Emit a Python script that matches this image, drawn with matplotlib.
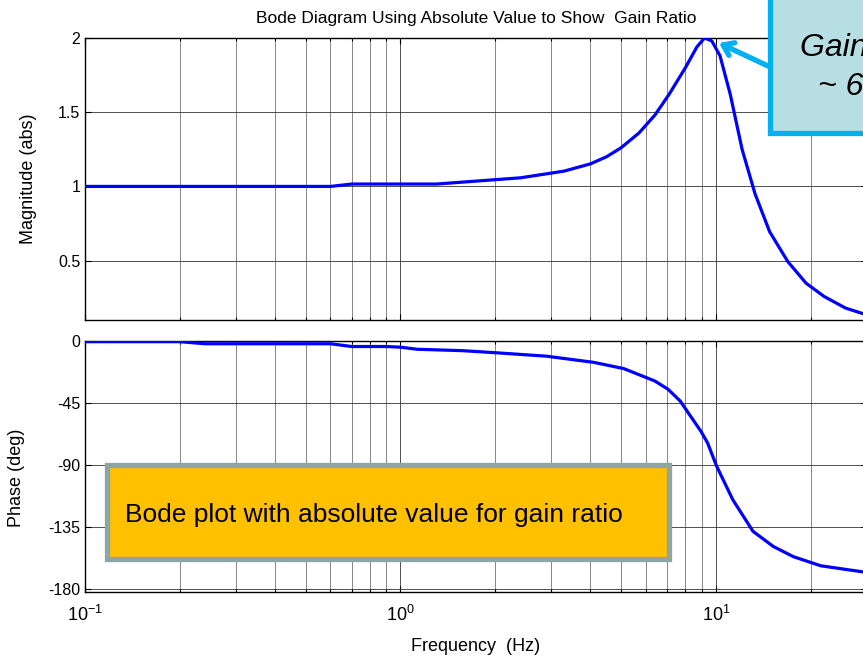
import numpy as np
import matplotlib
matplotlib.use("Agg")
import matplotlib.pyplot as plt
from matplotlib.patches import Rectangle, FancyArrowPatch
from matplotlib.ticker import LogLocator, FixedLocator, NullFormatter

plt.rcParams['font.family'] = ['Liberation Sans', 'DejaVu Sans']
plt.rcParams['axes.unicode_minus'] = False

mag_freq = [0.1, 0.6, 0.7, 1.3, 2.4, 3.3, 4.0, 4.5, 5.0, 5.7, 6.4, 7.1, 8.0,
            8.7, 9.2, 9.7, 10.3, 11.1, 12.1, 13.3, 14.8, 16.9, 19.3, 22.0,
            25.7, 29.2, 30.0]
mag_abs = [1.0, 1.0, 1.016, 1.016, 1.058, 1.103, 1.152, 1.20, 1.26, 1.36,
           1.48, 1.62, 1.80, 1.94, 2.0, 1.98, 1.88, 1.62, 1.25, 0.95, 0.694,
           0.493, 0.348, 0.259, 0.181, 0.143, 0.14]

phase_freq = [0.1, 0.2, 0.24, 0.6, 0.7, 0.9, 1.0, 1.13, 1.57, 2.0, 2.9, 4.1,
              5.1, 6.4, 7.05, 7.7, 8.3, 8.95, 9.4, 10.05, 11.3, 13.1, 15.2,
              17.6, 21.5, 29.2, 30.0]
phase_deg = [-0.5, -0.5, -2, -2, -4, -4, -4.5, -6, -7, -8.5, -11, -15.5, -20,
             -29, -35, -43.5, -54.4, -65.3, -73.8, -90.8, -115, -138, -149,
             -156.4, -163, -167.4, -167.6]

mag_ticks = [0.5, 1, 1.5, 2]
mag_ticklabels = ['0.5', '1', '1.5', '2']
phase_ticks = [-180, -135, -90, -45, 0]
phase_ticklabels = ['-180', '-135', '-90', '-45', '0']

W, H = 863, 659
fig = plt.figure(figsize=(W / 100, H / 100), dpi=100)

# axes run from 0.1 Hz to 30 Hz; right edge sits just past the canvas
x0, x1 = 85, 866.5
ax1 = fig.add_axes([x0 / W, 1 - 320 / H, (x1 - x0) / W, 282 / H])
ax2 = fig.add_axes([x0 / W, 1 - 592 / H, (x1 - x0) / W, 251 / H])

blue = '#0000ff'
ax1.plot(mag_freq, mag_abs, color=blue, lw=2.3, zorder=3)
ax2.plot(phase_freq, phase_deg, color=blue, lw=2.3, zorder=3)

for ax in (ax1, ax2):
    ax.set_xscale('log')
    ax.set_xlim(0.1, 30)
    ax.xaxis.set_major_locator(LogLocator(base=10, numticks=10))
    ax.xaxis.set_minor_locator(LogLocator(base=10, subs=np.arange(2, 10), numticks=20))
    ax.xaxis.set_minor_formatter(NullFormatter())
    ax.grid(True, which='major', axis='both', color='0.2', lw=0.6)
    ax.grid(True, which='minor', axis='x', color='0.45', lw=0.6)
    ax.tick_params(which='both', direction='in', top=True, right=True,
                   labelsize=11.5, width=0.8)
    ax.tick_params(which='major', length=4)
    ax.tick_params(which='minor', length=2.5)
    for s in ax.spines.values():
        s.set_linewidth(1.0)
        s.set_color('black')
    ax.set_axisbelow(True)

ax1.set_ylim(0.1, 2)
ax1.yaxis.set_major_locator(FixedLocator(mag_ticks))
ax1.set_yticklabels(mag_ticklabels)
ax1.tick_params(axis='x', labelbottom=False)
ax1.set_ylabel('Magnitude (abs)', fontsize=13)
ax1.yaxis.set_label_coords((37 - x0) / (x1 - x0), 0.5)
ax1.set_title('Bode Diagram Using Absolute Value to Show  Gain Ratio',
              fontsize=12.5, pad=11)

ax2.set_ylim(-182, 0)
ax2.yaxis.set_major_locator(FixedLocator(phase_ticks))
ax2.set_yticklabels(phase_ticklabels)
ax2.tick_params(axis='x', pad=9)
for lab in ax2.get_xticklabels():
    lab.set_fontsize(13)
ax2.set_ylabel('Phase (deg)', fontsize=13)
ax2.yaxis.set_label_coords((25 - x0) / (x1 - x0), 0.454)
ax2.set_xlabel('Frequency  (Hz)', fontsize=13, labelpad=10)


def px_rect(xa, ya, xb, yb, **kw):
    # rectangle given in canvas pixels (origin top-left)
    return Rectangle((xa / W, 1 - yb / H), (xb - xa) / W, (yb - ya) / H,
                     transform=fig.transFigure, clip_on=False, **kw)


# callout pointing at the resonance peak
fig.add_artist(px_rect(770, -20, 1000, 133, facecolor='#b7dee3',
                       edgecolor='#00b0f0', lw=3.8, zorder=10))
fig.text(800 / W, 1 - 48 / H, 'Gain ratio = 2', fontsize=23, style='italic',
         ha='left', va='center', zorder=11)
fig.text(818 / W, 1 - 87 / H, '~ 6 dB', fontsize=23, style='italic',
         ha='left', va='center', zorder=11)
fig.add_artist(FancyArrowPatch((768 / W, 1 - 66 / H), (719 / W, 1 - 43 / H),
                               transform=fig.transFigure,
                               arrowstyle='->,head_length=7,head_width=5',
                               color='#00b0f0', lw=3.8, zorder=10,
                               shrinkA=0, shrinkB=0))

# note box in the phase panel
fig.add_artist(px_rect(107, 465, 669, 559, facecolor='#ffc000',
                       edgecolor='#8ea5a5', lw=3.8, zorder=10))
fig.text(125 / W, 1 - 515 / H, 'Bode plot with absolute value for gain ratio',
         fontsize=19, ha='left', va='center', zorder=11)

fig.savefig('out.png', dpi=100)
